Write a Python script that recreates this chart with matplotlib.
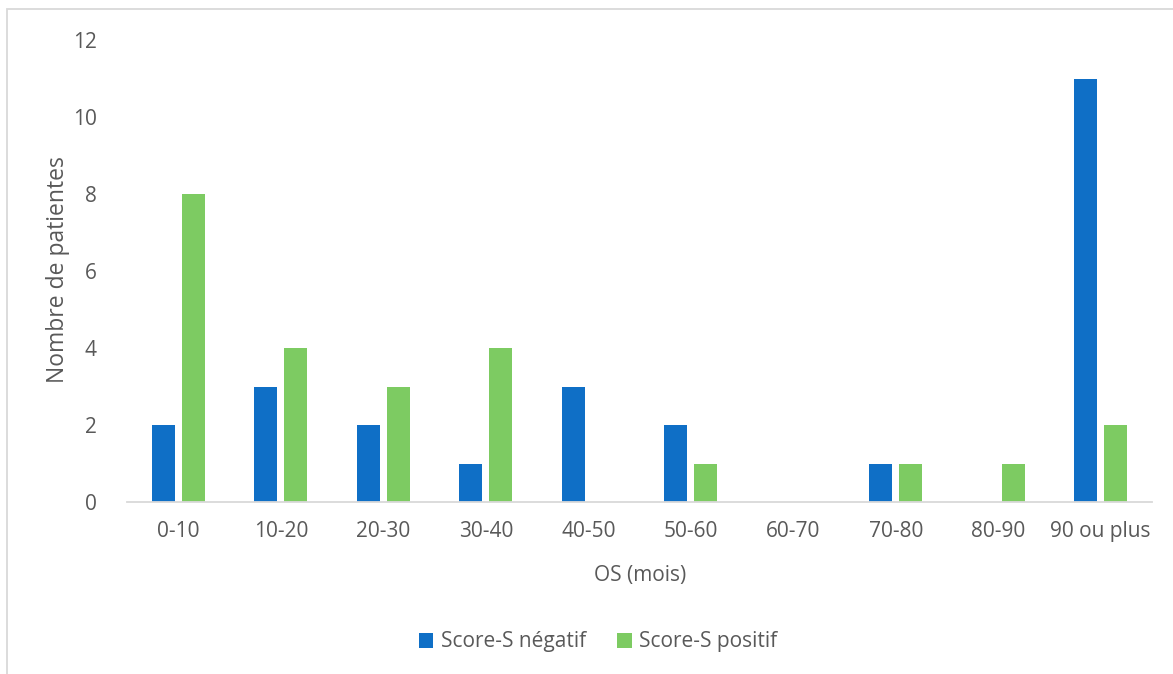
import matplotlib
matplotlib.use("Agg")
import matplotlib.pyplot as plt
from matplotlib.patches import Rectangle
import numpy as np

categories = ["0-10", "10-20", "20-30", "30-40", "40-50", "50-60", "60-70", "70-80", "80-90", "90 ou plus"]
score_negatif = [2, 3, 2, 1, 3, 2, 0, 1, 0, 11]
score_positif = [8, 4, 3, 4, 0, 1, 0, 1, 1, 2]
series_names = ["Score-S négatif", "Score-S positif"]
yticks = [0, 2, 4, 6, 8, 10, 12]

BLUE = "#0F6FC6"
GREEN = "#7DCB62"
TXT = "#595959"

plt.rcParams['font.family'] = ['Open Sans', 'DejaVu Sans']

W, H = 1173, 674
fig = plt.figure(figsize=(W / 100, H / 100), dpi=100)

# outer frame (partially off-canvas like reference)
fig.patches.append(Rectangle((7 / W, -0.05), 1.2, 1 - 9 / H + 0.05, transform=fig.transFigure,
                             fill=False, edgecolor="#D9D9D9", linewidth=1.3))

ax_left, ax_right, ax_top, ax_bot = 127, 1152, 40, 502
ax = fig.add_axes([ax_left / W, (H - ax_bot) / H, (ax_right - ax_left) / W, (ax_bot - ax_top) / H])

x = np.arange(len(categories))
bw = 0.228
off = 0.146
ax.bar(x - off, score_negatif, bw, color=BLUE, label=series_names[0])
ax.bar(x + off, score_positif, bw, color=GREEN, label=series_names[1])

ax.set_xlim(-0.5, len(categories) - 0.5)
ax.set_ylim(0, 12)
ax.set_yticks(yticks)
ax.set_xticks(x)
ax.set_xticklabels(categories)
ax.tick_params(axis='both', length=0, labelsize=15, colors=TXT)
ax.tick_params(axis='y', pad=22)
ax.tick_params(axis='x', pad=14)
for s in ["top", "right", "left"]:
    ax.spines[s].set_visible(False)
ax.spines["bottom"].set_color("#D9D9D9")
ax.spines["bottom"].set_linewidth(1.3)

fig.text(58 / W, 1 - 270 / H, "Nombre de patientes", rotation=90, ha="center", va="center",
         fontsize=16.5, color=TXT)
fig.text(640 / W, 1 - 575 / H, "OS (mois)", ha="center", va="center", fontsize=15, color=TXT)

handles, labels = ax.get_legend_handles_labels()
fig.legend(handles, labels, loc="center", bbox_to_anchor=(598 / W, 1 - 642 / H), ncol=2,
           frameon=False, fontsize=15, labelcolor=TXT, handlelength=0.7, handleheight=0.7,
           handletextpad=0.35, columnspacing=1.5)

fig.savefig("out.png", dpi=100)
